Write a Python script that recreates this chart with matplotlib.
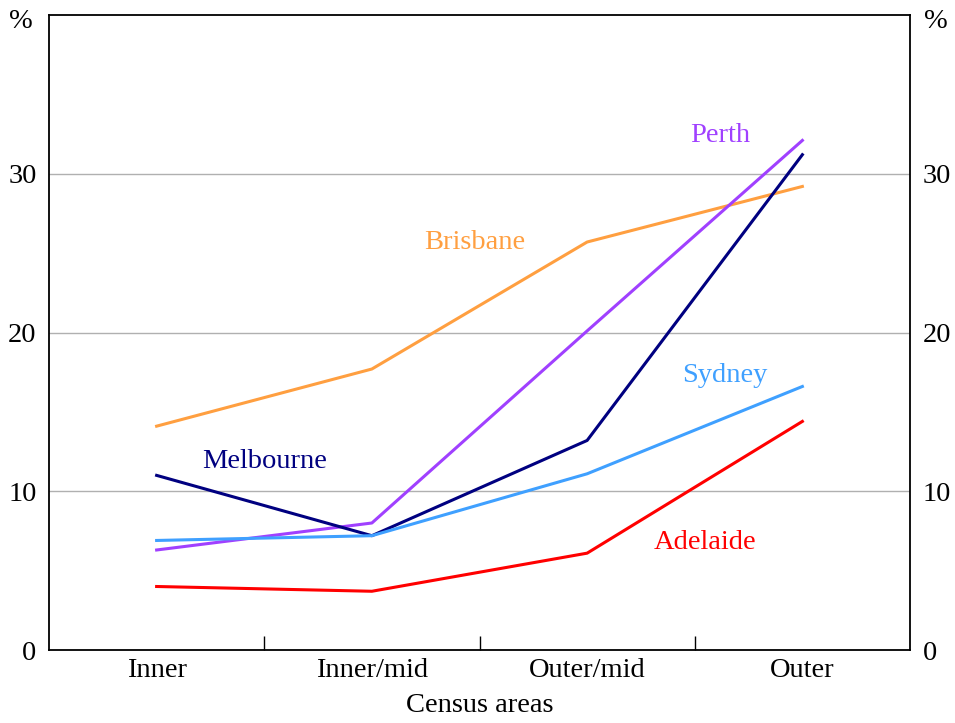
import matplotlib.pyplot as plt
from matplotlib.ticker import FixedLocator, NullFormatter

plt.rcParams["font.family"] = ["Liberation Serif", "DejaVu Serif"]
plt.rcParams["font.size"] = 20.5

areas = ["Inner", "Inner/mid", "Outer/mid", "Outer"]
brisbane = [14.1, 17.7, 25.7, 29.2]
perth = [6.3, 8.0, 20.1, 32.1]
melbourne = [11.0, 7.2, 13.2, 31.2]
sydney = [6.9, 7.2, 11.1, 16.6]
adelaide = [4.0, 3.7, 6.1, 14.4]

series = [
    ("Brisbane", brisbane, "#ff9f40", (1.48, 25.7)),
    ("Perth", perth, "#a040ff", (2.62, 32.4)),
    ("Melbourne", melbourne, "#000080", (0.50, 11.9)),
    ("Sydney", sydney, "#3fa0ff", (2.64, 17.3)),
    ("Adelaide", adelaide, "#ff0000", (2.55, 6.8)),
]

fig = plt.figure(figsize=(9.55, 7.23), dpi=100)
ax = fig.add_axes([49 / 955, 73 / 723, 861 / 955, 635 / 723])

x = list(range(len(areas)))
for name, vals, color, pos in series:
    ax.plot(x, vals, color=color, lw=2.2)
    ax.text(pos[0], pos[1], name, color=color, ha="center", va="center")

ax.set_xlim(-0.5, 3.5)
ax.set_ylim(0, 40)
ax.set_yticks([0, 10, 20, 30])
ax.yaxis.grid(True, color="#b0b0b0", lw=1)
ax.set_axisbelow(True)
ax.tick_params(axis="y", length=0, pad=9, labelright=True, right=False)

ax.set_xticks(x)
ax.set_xticklabels(areas)
ax.xaxis.set_minor_locator(FixedLocator([0.5, 1.5, 2.5]))
ax.xaxis.set_minor_formatter(NullFormatter())
ax.tick_params(axis="x", which="major", length=0, pad=6)
ax.tick_params(axis="x", which="minor", direction="in", length=10, width=1)
ax.set_xlabel("Census areas", labelpad=7)

for s in ax.spines.values():
    s.set_linewidth(1.3)

fig.text(21 / 955, 1 - 22 / 723, "%", ha="center", va="center")
fig.text(936 / 955, 1 - 22 / 723, "%", ha="center", va="center")

fig.savefig("out.png", dpi=100)
